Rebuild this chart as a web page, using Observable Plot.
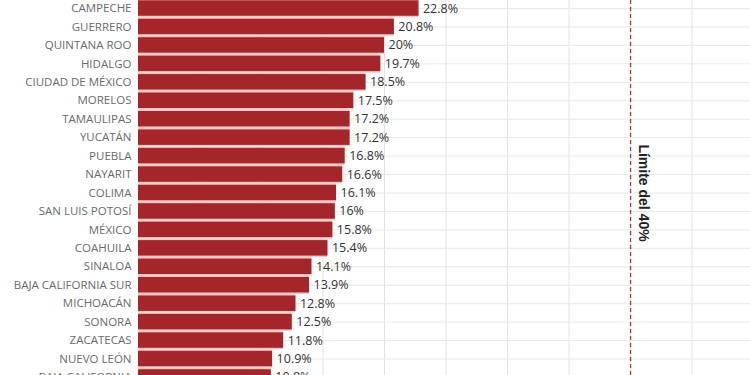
<!DOCTYPE html>
<html><head><meta charset="utf-8">
<script src="https://cdn.jsdelivr.net/npm/d3@7"></script>
<script src="https://cdn.jsdelivr.net/npm/@observablehq/plot@0.6"></script>
<style>html,body{margin:0;padding:0;overflow:hidden;background:#fff}</style>
</head><body><div id="chart"></div>
<script>
const estados = ["CAMPECHE","GUERRERO","QUINTANA ROO","HIDALGO","CIUDAD DE MÉXICO","MORELOS","TAMAULIPAS","YUCATÁN","PUEBLA","NAYARIT","COLIMA","SAN LUIS POTOSÍ","MÉXICO","COAHUILA","SINALOA","BAJA CALIFORNIA SUR","MICHOACÁN","SONORA","ZACATECAS","NUEVO LEÓN","BAJA CALIFORNIA"];
const valores = [22.8,20.8,20,19.7,18.5,17.5,17.2,17.2,16.8,16.6,16.1,16,15.8,15.4,14.1,13.9,12.8,12.5,11.8,10.9,10.8];
const gridValores = [5,10,15,20,25,30,35,40,45];
const limite = 40;
const limiteTexto = "Límite del 40%";
const data = estados.map((e,i)=>({estado:e, valor:valores[i]}));

const chart = Plot.plot({
  width:750, height:375, marginLeft:138, marginRight:0, marginTop:0, marginBottom:0,
  style:{fontFamily:"'Open Sans', sans-serif", background:"#fff", color:"#666", overflow:"hidden"},
  x:{domain:[0,49.75], axis:null},
  y:{domain:estados, range:[-1.2,386.2], padding:0, round:false, axis:null},
  marks:[
    Plot.gridX(gridValores, {stroke:"#e2e2e2", strokeOpacity:1}),
    Plot.gridY(estados, {stroke:"#e8e8e8", strokeOpacity:1}),
    Plot.barX(data,{x:"valor", y:"estado", fill:"#f3c6c2"}),
    Plot.barX(data,{x:"valor", y:"estado", fill:"#a4252a", insetTop:1.5, insetBottom:1.5}),
    Plot.text(data,{x:"valor", y:"estado", text:d=>`${d.valor}%`, textAnchor:"start", dx:4, fill:"#333", fontSize:12.5}),
    Plot.axisY({tickSize:0, tickPadding:7, fontSize:11.5, fill:"#6a6a6a", label:null}),
    Plot.ruleX([limite],{stroke:"#9b3b3b", strokeDasharray:"4,3", strokeWidth:1.3}),
    Plot.text([limite], {x:d=>d, frameAnchor:"middle", rotate:90, text:()=>limiteTexto, dx:13, dy:5, fontSize:14, fontWeight:"bold", fill:"#222", fontFamily:"'Liberation Sans', Arial, sans-serif"})
  ]
});
document.getElementById("chart").append(chart);
</script>
</body></html>
